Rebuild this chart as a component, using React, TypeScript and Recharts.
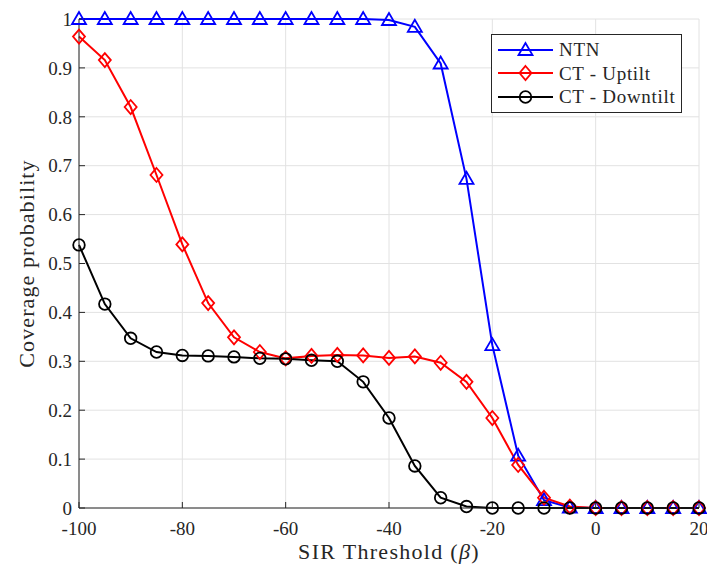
import { CartesianGrid, Label, Legend, Line, LineChart, XAxis, YAxis } from 'recharts'

const sirThreshold = [
  -100, -95, -90, -85, -80, -75, -70, -65, -60, -55, -50, -45, -40, -35, -30, -25, -20, -15, -10, -5, 0, 5,
  10, 15, 20,
]
const ntn = [
  1, 1, 1, 1, 1, 1, 1, 1, 1, 1, 1, 1, 0.998, 0.984, 0.909, 0.673, 0.333, 0.107, 0.016, 0.001, 0, 0, 0, 0, 0,
]
const ctUptilt = [
  0.964, 0.916, 0.82, 0.681, 0.539, 0.419, 0.349, 0.319, 0.306, 0.311, 0.313, 0.312, 0.307, 0.31, 0.297,
  0.258, 0.184, 0.088, 0.021, 0.003, 0, 0, 0, 0, 0,
]
const ctDowntilt = [
  0.538, 0.417, 0.347, 0.319, 0.312, 0.311, 0.309, 0.306, 0.305, 0.302, 0.3, 0.258, 0.184, 0.086, 0.021,
  0.003, 0, 0, 0, 0, 0, 0, 0, 0, 0,
]
const xTicks = [-100, -80, -60, -40, -20, 0, 20]
const yTicks = [0, 0.1, 0.2, 0.3, 0.4, 0.5, 0.6, 0.7, 0.8, 0.9, 1]

const data = sirThreshold.map((x, i) => ({
  x,
  ntn: ntn[i],
  up: ctUptilt[i],
  down: ctDowntilt[i],
}))

const FONT = '"Liberation Serif", "DejaVu Serif", serif'
const AXIS = '#262626'
const GRID = '#e2e2e2'

type Shape = 'triangle' | 'diamond' | 'circle'

const series: { key: string; name: string; color: string; shape: Shape }[] = [
  { key: 'ntn', name: 'NTN', color: '#0000ff', shape: 'triangle' },
  { key: 'up', name: 'CT - Uptilt', color: '#ff0000', shape: 'diamond' },
  { key: 'down', name: 'CT - Downtilt', color: '#000000', shape: 'circle' },
]

function marker(shape: Shape, cx: number, cy: number, color: string, key?: string | number) {
  const common = { fill: 'none', stroke: color, strokeWidth: 1.8 }
  if (shape === 'triangle') {
    return (
      <polygon
        key={key}
        points={`${cx},${cy - 7} ${cx - 7},${cy + 5} ${cx + 7},${cy + 5}`}
        {...common}
      />
    )
  }
  if (shape === 'diamond') {
    return (
      <polygon
        key={key}
        points={`${cx},${cy - 7} ${cx + 6},${cy} ${cx},${cy + 7} ${cx - 6},${cy}`}
        {...common}
      />
    )
  }
  return <circle key={key} cx={cx} cy={cy} r={5.8} {...common} />
}

function makeDot(shape: Shape, color: string) {
  return (props: any) => {
    const { cx, cy, index } = props
    if (cx == null || cy == null) return <g key={index} />
    return marker(shape, cx, cy, color, index)
  }
}

function LegendBox() {
  return (
    <div
      style={{
        background: '#fff',
        border: '1px solid #262626',
        padding: '3px 6px 3px 5px',
        fontFamily: FONT,
        fontSize: 19,
        letterSpacing: 0.7,
        color: AXIS,
        lineHeight: '23.5px',
      }}
    >
      {series.map((s) => (
        <div key={s.key} style={{ display: 'flex', alignItems: 'center', whiteSpace: 'nowrap' }}>
          <svg width={58} height={20} style={{ marginRight: 4 }}>
            <line x1={1} y1={10} x2={56} y2={10} stroke={s.color} strokeWidth={2} />
            {marker(s.shape, 28.5, 10, s.color)}
          </svg>
          <span>{s.name}</span>
        </div>
      ))}
    </div>
  )
}

function XTitle(props: any) {
  const vb = props.viewBox
  return (
    <text
      x={vb.x + vb.width / 2}
      y={559}
      textAnchor="middle"
      fontFamily={FONT}
      fontSize={22}
      letterSpacing={1.3}
      fill={AXIS}
    >
      SIR Threshold (<tspan fontStyle="italic">β</tspan>)
    </text>
  )
}

function YTitle() {
  return (
    <text
      x={0}
      y={0}
      transform="translate(34, 263.5) rotate(-90)"
      textAnchor="middle"
      fontFamily={FONT}
      fontSize={22}
      letterSpacing={1.1}
      fill={AXIS}
    >
      Coverage probability
    </text>
  )
}

const tickStyle = { fontFamily: FONT, fontSize: 19, fill: AXIS }

export default function App() {
  return (
    <div style={{ position: 'absolute', left: 0, top: 0, background: '#fff' }}>
      <LineChart width={707} height={566} data={data} margin={{ top: 19, right: 8, left: 0, bottom: 0 }}>
        <CartesianGrid stroke={GRID} strokeWidth={1} />
        <XAxis
          dataKey="x"
          type="number"
          domain={[-100, 20]}
          ticks={xTicks}
          height={58}
          stroke={AXIS}
          strokeWidth={1}
          tick={tickStyle}
          tickSize={-6}
          tickMargin={20}
          interval={0}
        >
          <Label position="insideBottom" content={XTitle} />
        </XAxis>
        <XAxis
          xAxisId="top"
          orientation="top"
          dataKey="x"
          type="number"
          domain={[-100, 20]}
          ticks={xTicks}
          height={0}
          stroke={AXIS}
          tick={false}
          tickSize={-6}
        />
        <YAxis
          type="number"
          domain={[0, 1]}
          ticks={yTicks}
          width={79}
          stroke={AXIS}
          tick={tickStyle}
          tickSize={-6}
          tickMargin={13}
          interval={0}
        >
          <Label position="insideLeft" content={YTitle} />
        </YAxis>
        <YAxis
          yAxisId="right"
          orientation="right"
          type="number"
          domain={[0, 1]}
          ticks={yTicks}
          width={0}
          stroke={AXIS}
          tick={false}
          tickSize={-6}
        />
        <Legend
          layout="vertical"
          align="center"
          verticalAlign="middle"
          wrapperStyle={{ left: 491, top: 34, width: 'auto' }}
          content={() => <LegendBox />}
        />
        {series.map((s) => (
          <Line
            key={s.key}
            type="linear"
            dataKey={s.key}
            name={s.name}
            stroke={s.color}
            strokeWidth={2}
            dot={makeDot(s.shape, s.color)}
            activeDot={false}
            isAnimationActive={false}
          />
        ))}
      </LineChart>
    </div>
  )
}
